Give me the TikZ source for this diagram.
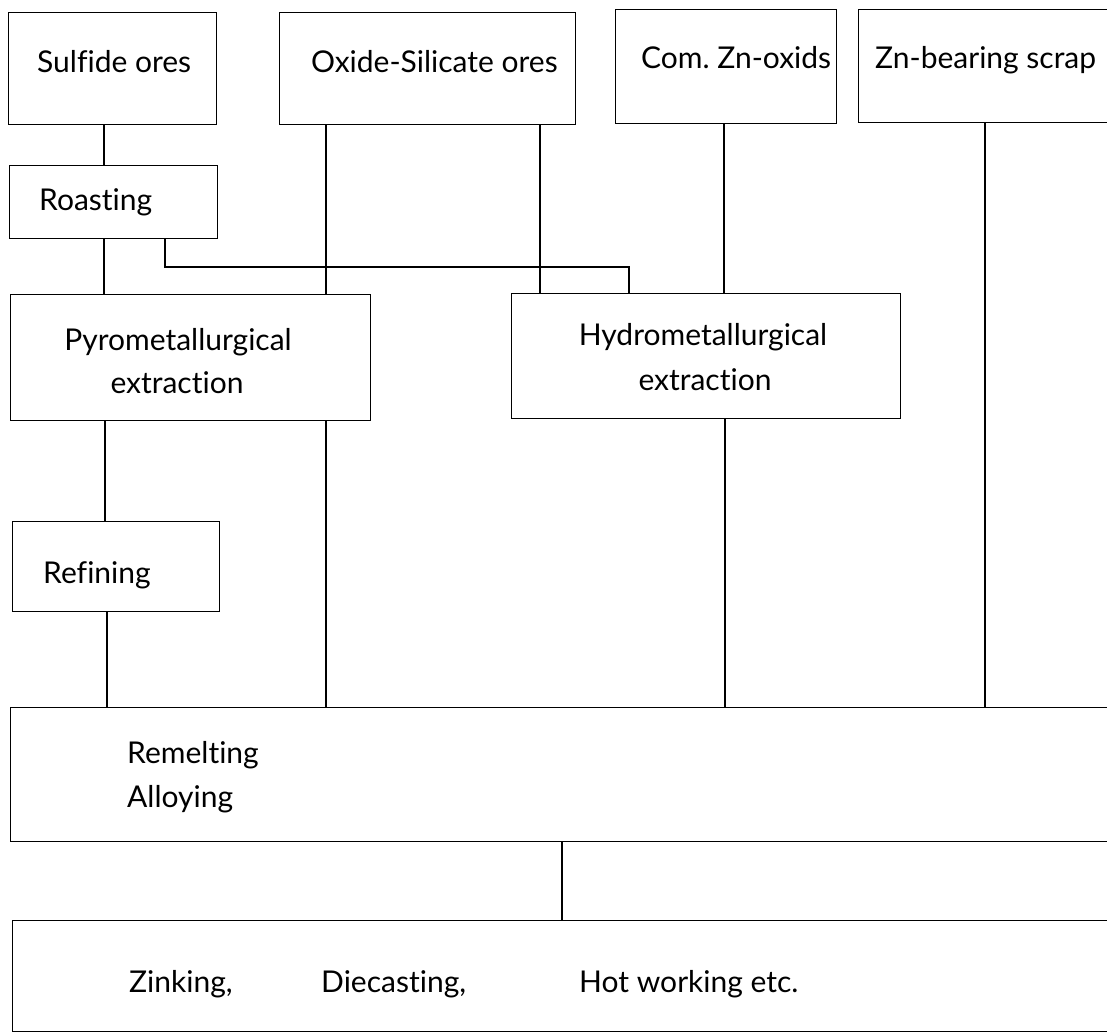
\documentclass[tikz,border=0pt]{standalone}
\usepackage{fontspec}
\setmainfont{Lato}[Ligatures=NoCommon]
\frenchspacing
\begin{document}
\begin{tikzpicture}[x=1pt,y=-1pt,
  box/.style={draw, line width=1.1pt, inner sep=0pt, anchor=north west},
  link/.style={line width=1.1pt},
  lbl/.style={font=\fontsize{30}{36}\selectfont, inner sep=0pt, anchor=base west},
  clbl/.style={lbl, anchor=base}]
\useasboundingbox (0,0) rectangle (1107,1033);
\clip (0,0) rectangle (1107,1033);

% raw materials
\node[box, minimum width=208pt, minimum height=112pt] (sulf)  at (8,12)  {};
\node[box, minimum width=296pt, minimum height=112pt] (oxsil) at (279,12) {};
\node[box, minimum width=221pt, minimum height=114pt] (comzn) at (615,9) {};
\node[box, minimum width=262pt, minimum height=113pt] (scrap) at (858,9) {};

% process steps
\node[box, minimum width=208pt, minimum height=73pt]  (roast)  at (9,165)  {};
\node[box, minimum width=360pt, minimum height=126pt] (pyro)   at (10,294) {};
\node[box, minimum width=389pt, minimum height=125pt] (hydro)  at (511,293) {};
\node[box, minimum width=207pt, minimum height=90pt]  (refine) at (12,521) {};
\node[box, minimum width=1110pt, minimum height=134pt] (remelt) at (10,707) {};
\node[box, minimum width=1108pt, minimum height=111pt] (finish) at (12,920) {};

% labels
\node[lbl] at (37,72)  {Sulfide ores};
\node[lbl] at (311,72) {Oxide-Silicate ores};
\node[lbl] at (641,68) {Com. Zn-oxids};
\node[lbl] at (875,68) {Zn-bearing scrap};
\node[lbl] at (39,210) {Roasting};
\node[clbl] at (178,350) {Pyrometallurgical};
\node[clbl] at (177,393) {extraction};
\node[clbl] at (703,345) {Hydrometallurgical};
\node[clbl] at (705,390) {extraction};
\node[lbl] at (43,583)  {Refining};
\node[lbl] at (127,763) {Remelting};
\node[lbl] at (127,807) {Alloying};
\node[lbl] at (129,992) {Zinking,};
\node[lbl] at (321,992) {Diecasting,};
\node[lbl] at (579,992) {Hot working etc.};

% flow lines
\coordinate (rbend) at (629,267);
\draw[link] (104,0 |- sulf.south)  -- (104,0 |- roast.north);
\draw[link] (104,0 |- roast.south) -- (104,0 |- pyro.north);
\draw[link] (165,0 |- roast.south) |- (rbend) -- (629,0 |- hydro.north);
\draw[link] (326,0 |- oxsil.south) -- (326,0 |- pyro.north);
\draw[link] (540,0 |- oxsil.south) -- (540,0 |- hydro.north);
\draw[link] (724,0 |- comzn.south) -- (724,0 |- hydro.north);
\draw[link] (105,0 |- pyro.south)  -- (105,0 |- refine.north);
\draw[link] (107,0 |- refine.south) -- (107,0 |- remelt.north);
\draw[link] (326,0 |- pyro.south)  -- (326,0 |- remelt.north);
\draw[link] (725,0 |- hydro.south) -- (725,0 |- remelt.north);
\draw[link] (985,0 |- scrap.south) -- (985,0 |- remelt.north);
\draw[link] (562,0 |- remelt.south) -- (562,0 |- finish.north);
\end{tikzpicture}
\end{document}
